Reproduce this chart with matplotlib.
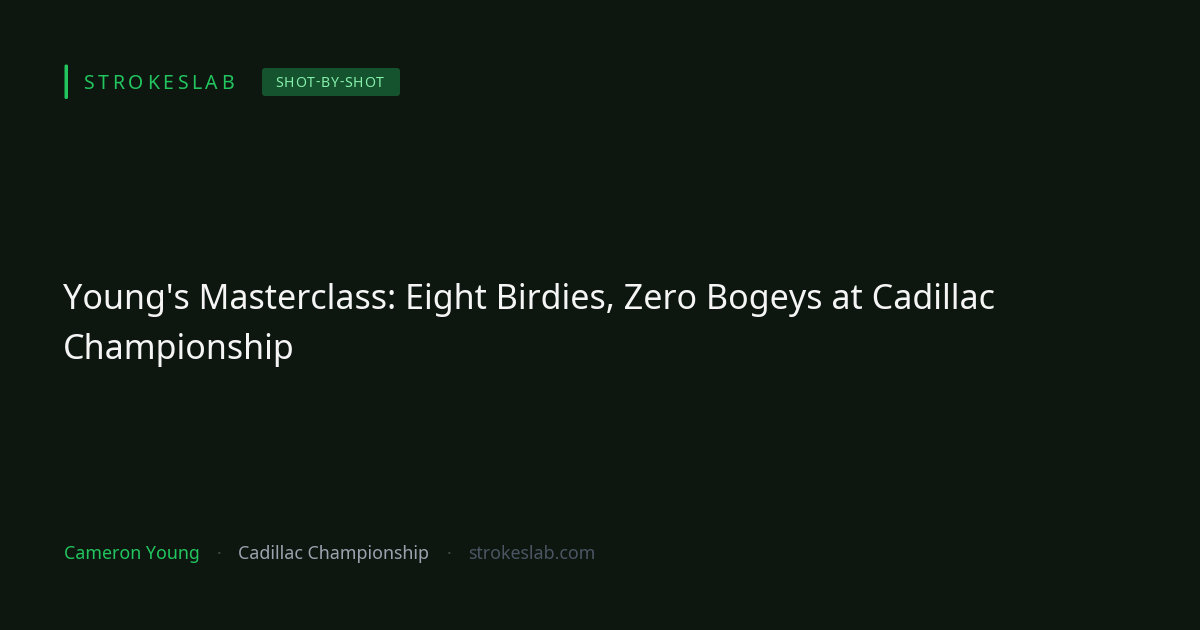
import matplotlib
matplotlib.use("Agg")
import matplotlib.pyplot as plt
from matplotlib.patches import FancyBboxPatch

brand = "STROKESLAB"
badge = "SHOT-BY-SHOT"
title_lines = ["Young's Masterclass: Eight Birdies, Zero Bogeys at Cadillac", "Championship"]
footer_items = ["Cameron Young", "Cadillac Championship", "strokeslab.com"]

BG = "#0d1710"
GREEN = "#22c55e"
FONT = "Noto Sans"

fig = plt.figure(figsize=(12, 6.3), dpi=100, facecolor=BG)
ax = fig.add_axes([0, 0, 1, 1])
ax.set_xlim(0, 1200)
ax.set_ylim(630, 0)
ax.axis("off")
ax.set_facecolor(BG)
renderer = fig.canvas.get_renderer()


def char_widths(text, **kw):
    widths = []
    for ch in text:
        t = ax.text(0, 0, ch, **kw)
        widths.append(t.get_window_extent(renderer).width)
        t.remove()
    return widths


def spaced(text, x0, y, spacing, **kw):
    x = x0
    for ch, w in zip(text, char_widths(text, **kw)):
        ax.text(x, y, ch, ha="left", va="baseline", **kw)
        x += w + spacing


def measure(text, spacing, **kw):
    return sum(char_widths(text, **kw)) + spacing * (len(text) - 1)


# accent bar
ax.add_patch(FancyBboxPatch((64.5, 64.5), 3.5, 34.5, boxstyle="round,pad=0,rounding_size=1.5",
                            fc=GREEN, ec="none"))

# brand with letter spacing
spaced(brand, 83, 89, 3.7, color=GREEN, fontsize=14, family=FONT)

# badge
ax.add_patch(FancyBboxPatch((262, 68), 138, 28, boxstyle="round,pad=0,rounding_size=3",
                            fc="#14532d", ec="none"))
bkw = dict(color="#86efac", fontsize=10.1, family=FONT)
bw = measure(badge, 0.8, **bkw)
spaced(badge, 329.5 - bw / 2, 87, 0.8, **bkw)

# title
for i, line in enumerate(title_lines):
    ax.text(63, 309 + i * 50, line, color="#f5f5f5", fontsize=24.5, family=FONT,
            ha="left", va="baseline")

# footer
ax.text(64, 559, footer_items[0], color=GREEN, fontsize=12.8, family=FONT, ha="left", va="baseline")
ax.text(219, 559.5, "·", color="#3f4a43", fontsize=12.8, family=FONT, ha="center", va="baseline")
ax.text(238, 559, footer_items[1], color="#9ca3af", fontsize=12.8, family=FONT, ha="left", va="baseline")
ax.text(449, 559.5, "·", color="#3f4a43", fontsize=12.8, family=FONT, ha="center", va="baseline")
ax.text(468, 559, footer_items[2], color="#4b5563", fontsize=12.8, family=FONT, ha="left", va="baseline")

fig.savefig("out.png", dpi=100, facecolor=BG)
